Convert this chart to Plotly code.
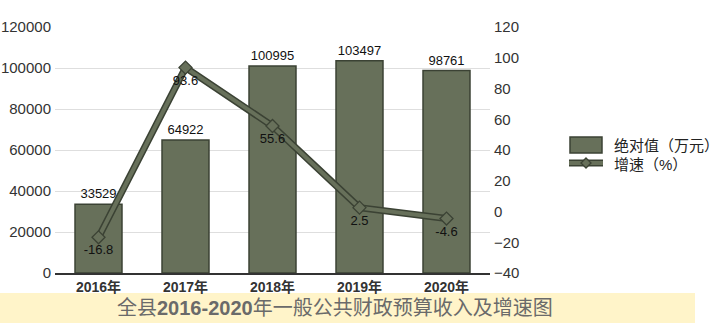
import plotly.graph_objects as go

years = ["2016年", "2017年", "2018年", "2019年", "2020年"]
absolute = [33529, 64922, 100995, 103497, 98761]
growth = [-16.8, 93.6, 55.6, 2.5, -4.6]
legend_names = ["绝对值（万元）", "增速（%）"]
title_parts = ["全县", "2016-2020", "年一般公共财政预算收入及增速图"]

W, H = 720, 329
L, R, T, B = 55, 230, 27, 56
PW, PH = W - L - R, H - T - B


def px(x):
    return (x - L) / PW


def py(y):
    return (H - B - y) / PH


OLIVE = "#67705a"
DARK = "#3b4234"
FONT = "Liberation Sans, Arial, Noto Sans CJK SC, sans-serif"

fig = go.Figure()
fig.add_trace(go.Bar(
    x=years, y=absolute, width=0.54,
    marker=dict(color=OLIVE, line=dict(color=DARK, width=1.5)),
    text=[str(v) for v in absolute], textposition="outside",
    textfont=dict(size=13, color="#111", family=FONT),
    cliponaxis=False, showlegend=False,
))
fig.add_trace(go.Scatter(
    x=years, y=growth, yaxis="y2", mode="lines",
    line=dict(color=DARK, width=7), showlegend=False, hoverinfo="skip",
))
fig.add_trace(go.Scatter(
    x=years, y=growth, yaxis="y2", mode="lines+markers+text",
    line=dict(color=OLIVE, width=4),
    marker=dict(symbol="diamond", size=10, color=OLIVE, line=dict(color=DARK, width=1.3)),
    text=[str(v) for v in growth], textposition="bottom center",
    textfont=dict(size=13, color="#111", family=FONT),
    cliponaxis=False, showlegend=False,
))

shapes = [
    dict(type="rect", xref="paper", yref="paper", x0=px(0), x1=px(695), y0=py(293), y1=py(323),
         fillcolor="#fff4c9", line=dict(width=0), layer="below"),
    dict(type="rect", xref="paper", yref="paper", x0=px(570), x1=px(602), y0=py(153), y1=py(137),
         fillcolor=OLIVE, line=dict(color=DARK, width=1.5)),
    dict(type="line", xref="paper", yref="paper", x0=px(569), x1=px(603), y0=py(163), y1=py(163),
         line=dict(color=DARK, width=7)),
    dict(type="line", xref="paper", yref="paper", x0=px(569), x1=px(603), y0=py(163), y1=py(163),
         line=dict(color=OLIVE, width=4)),
    dict(type="path", xref="paper", yref="paper",
         path=f"M {px(586)} {py(158)} L {px(591)} {py(163)} L {px(586)} {py(168)} L {px(581)} {py(163)} Z",
         fillcolor=OLIVE, line=dict(color=DARK, width=1.3)),
]

annotations = [
    dict(xref="paper", yref="paper", x=px(612), y=py(145), xanchor="left", yanchor="middle",
         text=legend_names[0], showarrow=False, font=dict(size=15, color="#222", family=FONT)),
    dict(xref="paper", yref="paper", x=px(612), y=py(164), xanchor="left", yanchor="middle",
         text=legend_names[1], showarrow=False, font=dict(size=15, color="#222", family=FONT)),
    dict(xref="paper", yref="paper", x=px(335), y=py(308), xanchor="center", yanchor="middle",
         text=f"{title_parts[0]}<b>{title_parts[1]}</b>{title_parts[2]}", showarrow=False,
         font=dict(size=20, color="#6a6a6a", family=FONT)),
]

fig.update_layout(
    width=W, height=H,
    margin=dict(l=L, r=R, t=T, b=B, autoexpand=False),
    paper_bgcolor="white", plot_bgcolor="white",
    bargap=0.46,
    font=dict(family=FONT, color="#333"),
    xaxis=dict(showline=True, linecolor="#333", linewidth=1.5, ticks="", automargin=False,
               tickfont=dict(size=14, color="#333", family=FONT), tickprefix="<b>", ticksuffix="</b>"),
    yaxis=dict(range=[0, 120000], dtick=20000, tickformat="d", showgrid=True, gridcolor="#dedede",
               gridwidth=1, zeroline=False, showline=False, automargin=False,
               tickfont=dict(size=15, color="#333", family=FONT), ticklabelstandoff=3),
    yaxis2=dict(range=[-40, 120], dtick=20, overlaying="y", side="right", showgrid=False,
                zeroline=False, showline=False, automargin=False,
                tickfont=dict(size=15, color="#333", family=FONT), ticklabelstandoff=3),
    shapes=shapes, annotations=annotations,
)

fig.write_html("out.html")
